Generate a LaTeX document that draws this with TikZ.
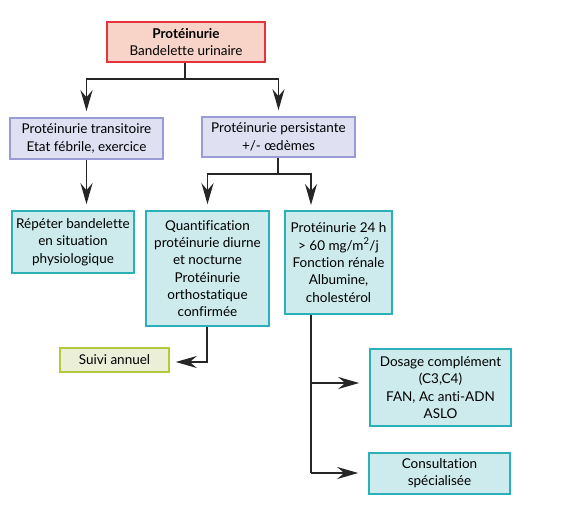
\documentclass[tikz,border=0pt]{standalone}
\usepackage{fontspec}
\setmainfont[Ligatures=NoCommon]{Lato}
\usetikzlibrary{arrows.meta}
\definecolor{redb}{HTML}{E5323F}
\definecolor{redf}{HTML}{F8D3C8}
\definecolor{lavb}{HTML}{9B9BD6}
\definecolor{lavf}{HTML}{E0E0F3}
\definecolor{teab}{HTML}{2BB0B8}
\definecolor{teaf}{HTML}{CDEAEC}
\definecolor{grnb}{HTML}{B2CB3A}
\definecolor{grnf}{HTML}{EBEFD7}
\tikzset{
  box/.style={draw, line width=1.6pt, align=center, inner sep=0pt,
    font=\fontsize{13.5}{17.3}\selectfont},
  redbox/.style={box, draw=redb, fill=redf},
  lavbox/.style={box, draw=lavb, fill=lavf},
  teabox/.style={box, draw=teab, fill=teaf},
  grnbox/.style={box, draw=grnb, fill=grnf},
  conn/.style={line width=1.6pt, draw=black!85},
  arr/.style={conn, -{Stealth[length=21pt, width=12pt, inset=7pt]}, shorten >=6pt},
}
\begin{document}
\begin{tikzpicture}[x=1pt, y=-1pt]
\useasboundingbox (0,0) rectangle (584,514);
\node[redbox, minimum width=158pt, minimum height=40pt] (top) at (186,42) {\textbf{Protéinurie}\\Bandelette urinaire};
\node[lavbox, minimum width=153pt, minimum height=41pt] (trans) at (86.5,138.5) {Protéinurie transitoire\\Etat fébrile, exercice};
\node[lavbox, minimum width=153pt, minimum height=40pt] (pers) at (278.5,137) {Protéinurie persistante\\+/- œdèmes};
\node[teabox, minimum width=122pt, minimum height=62pt] (rep) at (73,242) {Répéter bandelette\\en situation\\physiologique};
\node[teabox, minimum width=123pt, minimum height=115pt] (quant) at (207.5,268.5) {Quantification\\protéinurie diurne\\et nocturne\\Protéinurie\\orthostatique\\confirmée};
\node[teabox, minimum width=107pt, minimum height=103pt] (p24) at (338.5,262.5) {Protéinurie 24 h\\> 60 mg/m\textsuperscript{2}/j\\Fonction rénale\\Albumine,\\cholestérol};
\node[grnbox, minimum width=109pt, minimum height=24pt] (suivi) at (114.5,360) {Suivi annuel};
\node[teabox, minimum width=141pt, minimum height=77pt] (dos) at (440.5,387.5) {Dosage complément\\(C3,C4)\\FAN, Ac anti-ADN\\ASLO};
\node[teabox, minimum width=141pt, minimum height=41pt] (cons) at (439.5,473.5) {Consultation\\spécialisée};
% connectors
\coordinate (j1) at (185,79);
\draw[conn] (top.south -| j1) -- (j1);
\draw[arr] (j1) -| (trans.north);
\draw[arr] (j1) -| (pers.north);
\draw[arr] (trans.south) -- (trans.south |- rep.north);
\coordinate (j2) at (278,174);
\draw[conn] (pers.south -| j2) -- (j2);
\draw[arr] (j2) -| (quant.north);
\coordinate (k) at (311,211);
\draw[arr] (j2) -| (k);
\coordinate (q1) at (207,362);
\draw[arr] (quant.south -| q1) -- (q1) -- (suivi.east |- q1);
\coordinate (b1) at (311,383);
\coordinate (b2) at (311,473);
\draw[conn] (p24.south -| b1) -- (b2);
\draw[arr, shorten >=10pt] (b1) -- (dos.west |- b1);
\draw[arr, shorten >=10pt] (b2) -- (cons.west |- b2);
\end{tikzpicture}
\end{document}
